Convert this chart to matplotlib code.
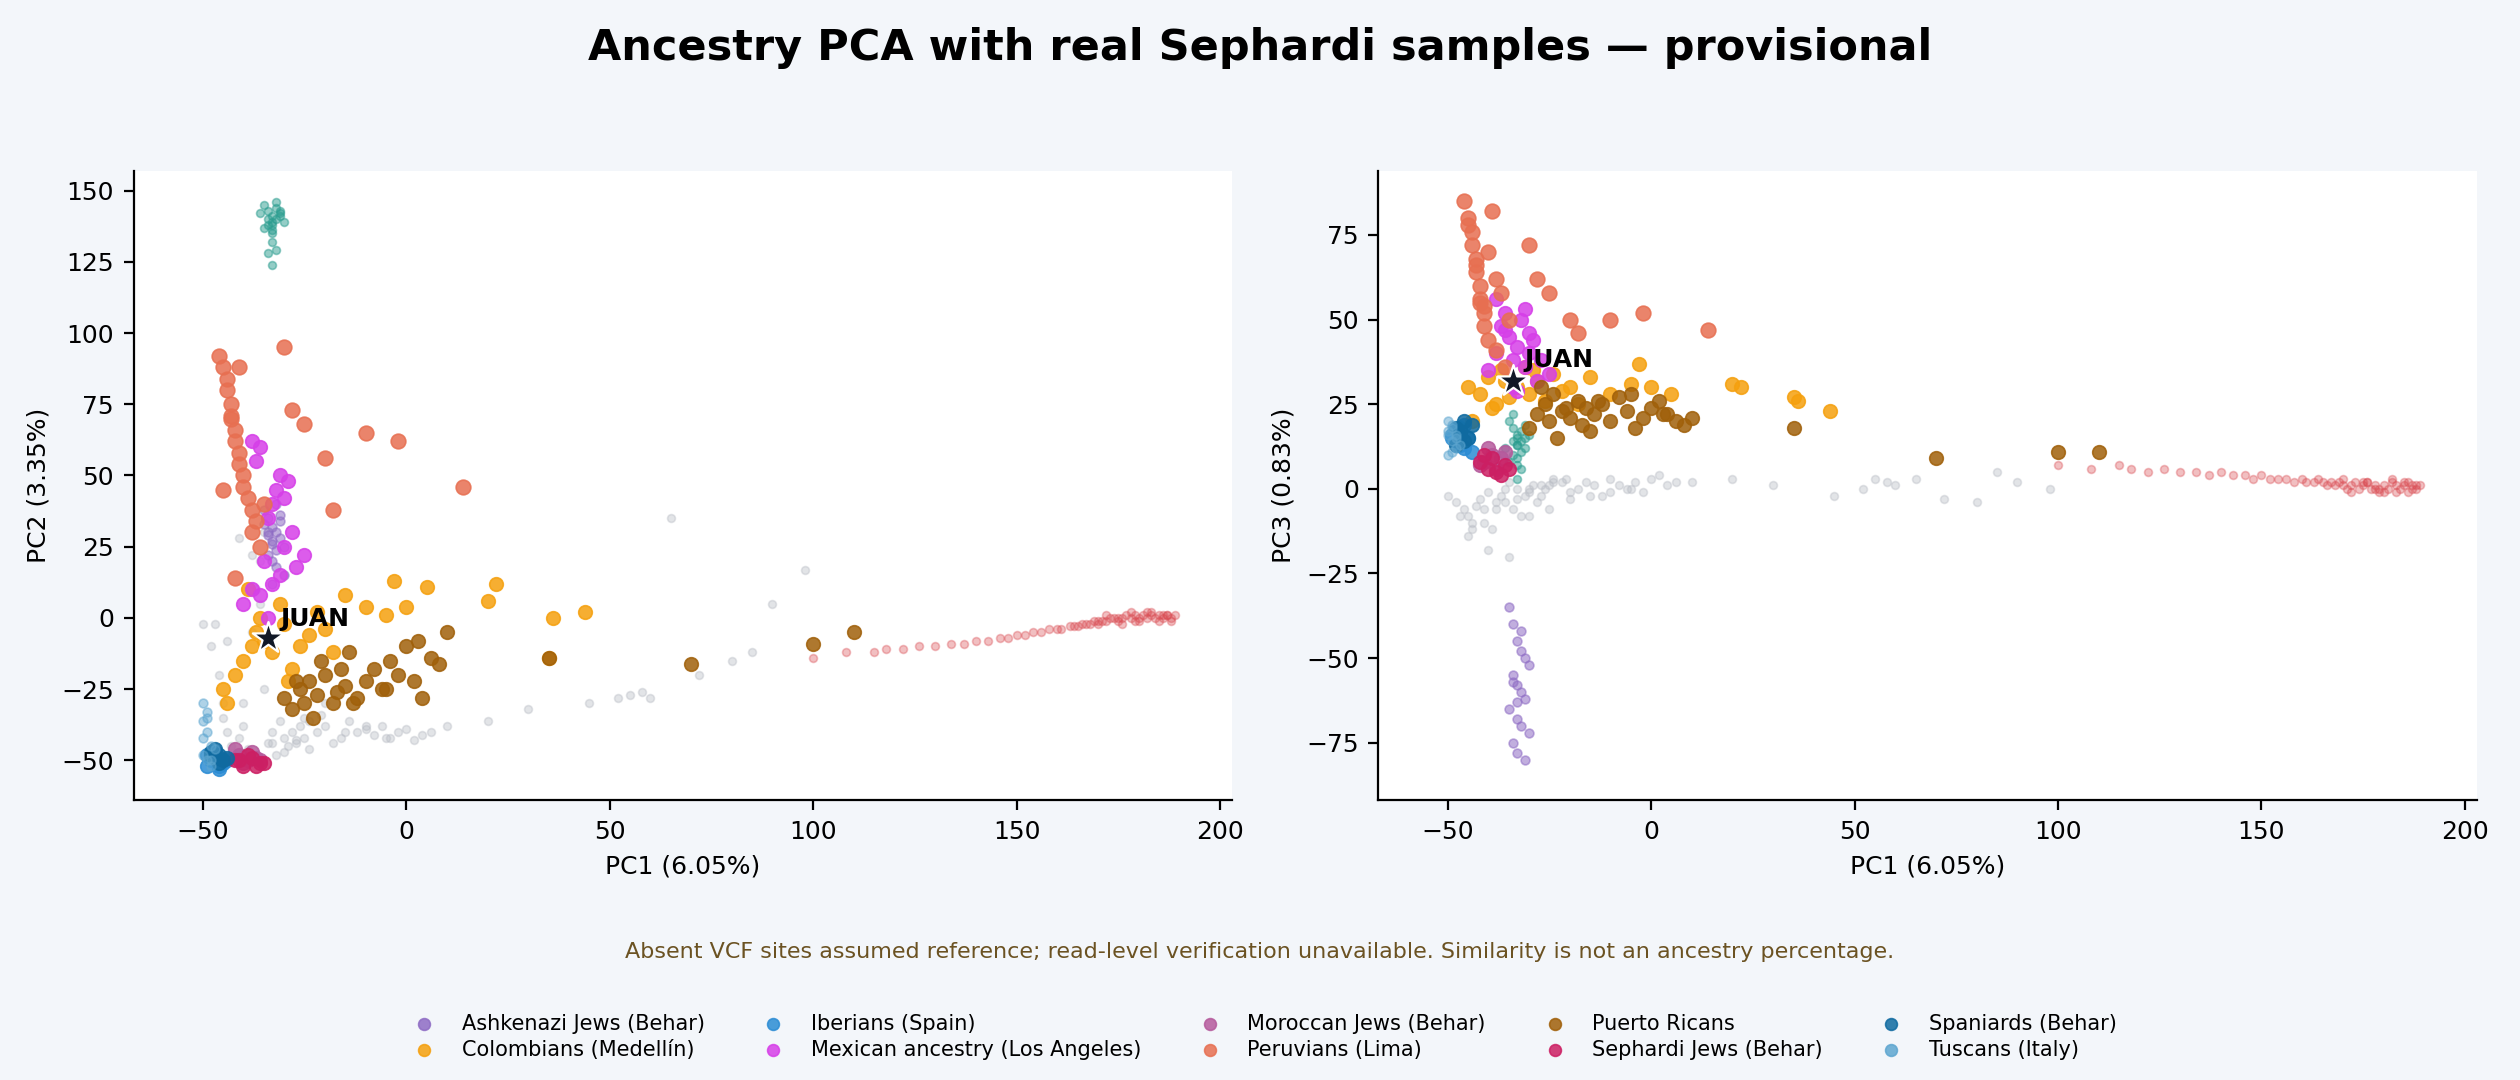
import matplotlib.pyplot as plt

# reference background populations (unlabelled)
ref_red_pc1 = [100, 108, 115, 118, 122, 126, 130, 134, 137, 140, 143, 146, 148, 150, 152, 154, 156, 158, 160, 161,
               163, 164, 165, 166, 167, 168, 169, 170, 171, 172, 173, 174, 175, 176, 177, 178, 179, 180, 181, 182,
               183, 184, 185, 186, 187, 188, 189, 170, 172, 175, 178, 180, 182, 185, 187, 176, 179, 183, 186, 188]
ref_red_pc2 = [-14, -12, -12, -11, -11, -10, -10, -9, -9, -8, -8, -7, -7, -6, -6, -5, -5, -4, -4, -4,
               -3, -3, -3, -2, -2, -2, -1, -1, -1, -1, 0, 0, 0, 0, 1, 0, 1, 0, 1, 0,
               1, 0, 1, 0, 1, 0, 1, -2, 1, -1, 2, -1, 2, -1, 1, -2, -1, 2, 1, -1]
ref_red_pc3 = [7, 6, 7, 6, 5, 6, 5, 5, 4, 5, 4, 4, 3, 4, 3, 3, 3, 2, 3, 2,
               2, 3, 2, 1, 2, 1, 2, 1, 0, 1, 2, 0, 1, 2, 0, 1, -1, 1, 0, 2,
               1, 0, 2, -1, 1, 0, 1, 3, -1, 2, 0, -1, 3, 1, 0, 2, 0, -1, 2, 1]

ref_grey_pc1 = [-50, -48, -46, -45, -44, -43, -42, -41, -40, -39, -38, -37, -36, -35, -34, -33, -32, -31, -30, -29,
                -28, -27, -26, -25, -24, -22, -20, -18, -16, -14, -12, -10, -8, -6, -4, -2, 0, 2, 4, 6,
                -45, -40, -35, -30, -25, -20, -15, -10, -5, 10, 20, 30, 45, 52, 55, 58, 60, 65, 72, 80,
                -47, -44, -41, -38, -36, -33, -30, -27, -24, -21, 85, 90, 98]
ref_grey_pc2 = [-2, -10, -20, -30, -40, -45, -48, -42, -38, -46, -5, 10, 20, 30, -44, -40, -48, -36, -42, -45,
                -40, -44, -38, -42, -46, -40, -38, -44, -42, -36, -40, -39, -41, -38, -42, -40, -39, -43, -41, -40,
                -35, -30, -25, 15, -35, -30, -40, -38, -42, -38, -36, -32, -30, -28, -27, -26, -28, 35, -20, -15,
                -2, -8, 28, 22, 5, -44, -47, -43, -36, -34, -12, 5, 17]
ref_grey_pc3 = [-2, -4, -6, -8, -10, -5, -3, -6, -1, -12, -4, -2, 0, 2, -6, -3, -8, -2, 0, 1,
                -4, -2, 0, 1, 3, 2, -1, 0, 2, 1, -2, 3, 1, 0, 2, -1, 3, 4, 1, 2,
                -14, -18, -20, -8, -6, -3, -2, -1, 0, 2, 3, 1, -2, 0, 3, 2, 1, 3, -3, -4,
                -8, -12, -10, -6, -4, 0, -1, 1, 2, 3, 5, 2, 0]

ref_teal_pc1 = [-35, -34, -33, -32, -31, -34, -33, -32, -35, -33, -31, -32, -34, -33, -30, -36, -33, -32, -34, -33, -31, -33]
ref_teal_pc2 = [145, 143, 141, 140, 142, 138, 139, 144, 137, 136, 141, 146, 140, 135, 139, 142, 132, 129, 128, 124, 143, 138]
ref_teal_pc3 = [20, 18, 16, 14, 12, 10, 15, 17, 8, 13, 19, 11, 14, 9, 16, 12, 3, 6, 22, 7, 15, 13]

# labelled populations
groups = ["Ashkenazi Jews (Behar)", "Colombians (Medellín)", "Iberians (Spain)", "Mexican ancestry (Los Angeles)",
          "Moroccan Jews (Behar)", "Peruvians (Lima)", "Puerto Ricans", "Sephardi Jews (Behar)",
          "Spaniards (Behar)", "Tuscans (Italy)"]
colors = ["#8e6cc4", "#f5a00e", "#2b8cd4", "#d63fe8", "#b55a9c", "#e76f51", "#a0600a", "#cc1f63", "#0f6aa0", "#5ea6d0"]
sizes = [10, 24, 24, 24, 24, 28, 24, 24, 24, 10]
alphas = [0.55, 0.85, 0.85, 0.85, 0.85, 0.85, 0.85, 0.85, 0.85, 0.5]

pc1 = [
    [-35, -34, -33, -32, -31, -30, -34, -33, -32, -31, -35, -33, -32, -30, -34, -33, -31, -32, -33, -34],
    [-45, -42, -40, -38, -37, -36, -35, -33, -31, -30, -28, -26, -24, -22, -20, -18, -15, -10, -5, -3, 0, 5, 20, 22, 35, 36, 44, -44, -39, -29],
    [-49, -48, -47, -46, -45, -48, -47, -44, -46, -49],
    [-40, -38, -37, -36, -35, -34, -33, -32, -31, -30, -29, -28, -36, -34, -31, -27, -25, -38, -33, -30],
    [-41, -39, -38, -40, -37, -42, -36],
    [-46, -45, -44, -44, -43, -43, -42, -42, -41, -41, -40, -40, -39, -38, -37, -45, -43, -41, -35, -30, -28, -25, -20, -18, -10, -2, 14, -38, -36, -42],
    [-30, -28, -26, -25, -24, -23, -22, -20, -18, -17, -16, -15, -14, -12, -10, -8, -6, -4, -2, 0, 2, 4, 6, 8, 10, 35, 70, 100, 110, -27, -21, -13, -5, 3],
    [-42, -40, -38, -36, -39, -37, -41, -35],
    [-48, -47, -46, -45, -47, -46, -44, -48],
    [-50, -49, -50, -49, -48, -50, -49, -48, -47, -50, -49, -48],
]
pc2 = [
    [38, 35, 32, 30, 28, 25, 22, 20, 18, 36, 33, 27, 24, 15, 30, 12, 34, 40, 26, 29],
    [-25, -20, -15, -10, -5, 0, -8, -12, 5, -2, -18, -10, -6, 2, -4, -12, 8, 4, 1, 13, 4, 11, 6, 12, -14, 0, 2, -30, 10, -22],
    [-52, -50, -48, -53, -51, -49, -47, -50, -52, -48],
    [5, 10, 55, 60, 20, 35, 40, 45, 15, 25, 48, 30, 8, 0, 50, 18, 22, 62, 12, 42],
    [-48, -50, -47, -51, -49, -46, -50],
    [92, 88, 84, 80, 75, 70, 66, 62, 58, 54, 50, 46, 42, 38, 34, 45, 71, 88, 40, 95, 73, 68, 56, 38, 65, 62, 46, 30, 25, 14],
    [-28, -32, -25, -30, -22, -35, -27, -20, -30, -26, -18, -24, -12, -28, -22, -18, -25, -15, -20, -10, -22, -28, -14, -16, -5, -14, -16, -9, -5, -22, -15, -30, -25, -8],
    [-50, -52, -49, -51, -48, -52, -50, -51],
    [-47, -49, -48, -50, -46, -51, -49, -48],
    [-30, -33, -36, -40, -45, -48, -50, -52, -46, -42, -35, -50],
]
pc3 = [
    [-35, -40, -45, -48, -50, -52, -55, -58, -60, -62, -65, -68, -70, -72, -75, -78, -80, -42, -63, -57],
    [30, 28, 33, 25, 35, 32, 27, 30, 36, 28, 32, 26, 34, 29, 30, 25, 33, 28, 31, 37, 30, 28, 31, 30, 27, 26, 23, 20, 24, 35],
    [16, 14, 18, 12, 15, 17, 13, 11, 19, 15],
    [35, 40, 48, 52, 45, 38, 42, 50, 36, 40, 44, 32, 47, 30, 53, 38, 34, 56, 29, 46],
    [8, 10, 6, 12, 9, 7, 11],
    [85, 80, 76, 72, 68, 64, 60, 56, 52, 48, 44, 70, 82, 62, 58, 78, 66, 54, 50, 72, 62, 58, 50, 46, 50, 52, 47, 41, 36, 55],
    [18, 22, 25, 20, 28, 15, 23, 21, 26, 19, 24, 17, 22, 25, 20, 27, 23, 18, 21, 24, 26, 22, 20, 19, 21, 18, 9, 11, 11, 30, 24, 26, 28, 22],
    [8, 6, 5, 7, 9, 4, 10, 6],
    [18, 16, 20, 15, 17, 14, 19, 13],
    [20, 18, 16, 14, 12, 10, 19, 15, 13, 17, 11, 16],
]

juan_pc1 = -34
juan_pc2 = -7
juan_pc3 = 32

plt.rcParams['font.family'] = ['DejaVu Sans']
fig = plt.figure(figsize=(12.6, 5.4), dpi=200, facecolor='#f3f6fa')
ax1 = fig.add_axes([0.053, 0.259, 0.436, 0.583])
ax2 = fig.add_axes([0.547, 0.259, 0.436, 0.583])

for ax, refr, refg, reft, vals, jy, ylab in [
        (ax1, ref_red_pc2, ref_grey_pc2, ref_teal_pc2, pc2, juan_pc2, "PC2 (3.35%)"),
        (ax2, ref_red_pc3, ref_grey_pc3, ref_teal_pc3, pc3, juan_pc3, "PC3 (0.83%)")]:
    ax.scatter(ref_grey_pc1, refg, s=8, c='#b8bcc4', alpha=0.4, linewidths=0.6)
    ax.scatter(ref_red_pc1, refr, s=8, c='#d9484f', alpha=0.35, linewidths=0.6)
    ax.scatter(ref_teal_pc1, reft, s=8, c='#2a9d8f', alpha=0.5, linewidths=0.6)
    for g, c, s, a, x, y in zip(groups, colors, sizes, alphas, pc1, vals):
        ax.scatter(x, y, s=s, c=c, alpha=a, linewidths=0.6, label=g)
    ax.scatter([juan_pc1], [jy], marker='*', s=140, c='#111827', edgecolors='white', linewidths=0.8, zorder=5)
    ax.text(juan_pc1 + 3, jy + 4, "JUAN", fontsize=9, fontweight='bold', zorder=6)
    ax.set_xlabel("PC1 (6.05%)", fontsize=9)
    ax.set_ylabel(ylab, fontsize=9)
    ax.tick_params(labelsize=9)
    ax.set_xticks([-50, 0, 50, 100, 150, 200])
    ax.spines['top'].set_visible(False)
    ax.spines['right'].set_visible(False)
    ax.set_xlim(-67, 203)

ax1.set_ylim(-64, 157)
ax2.set_ylim(-92, 94)

fig.suptitle("Ancestry PCA with real Sephardi samples — provisional", fontsize=15.5, fontweight='bold', y=0.975)
fig.text(0.5, 0.113, "Absent VCF sites assumed reference; read-level verification unavailable. Similarity is not an ancestry percentage.",
         ha='center', fontsize=8, color='#6b5222')
h, l = ax1.get_legend_handles_labels()
leg = fig.legend(h, l, loc='center', bbox_to_anchor=(0.5, 0.04), ncol=5, frameon=False, fontsize=7.5,
                 columnspacing=2.3, handletextpad=0.8, labelspacing=0.3)
for lh in leg.legend_handles:
    lh.set_sizes([18])
    lh.set_alpha(0.85)
fig.savefig("out.png", facecolor=fig.get_facecolor())
